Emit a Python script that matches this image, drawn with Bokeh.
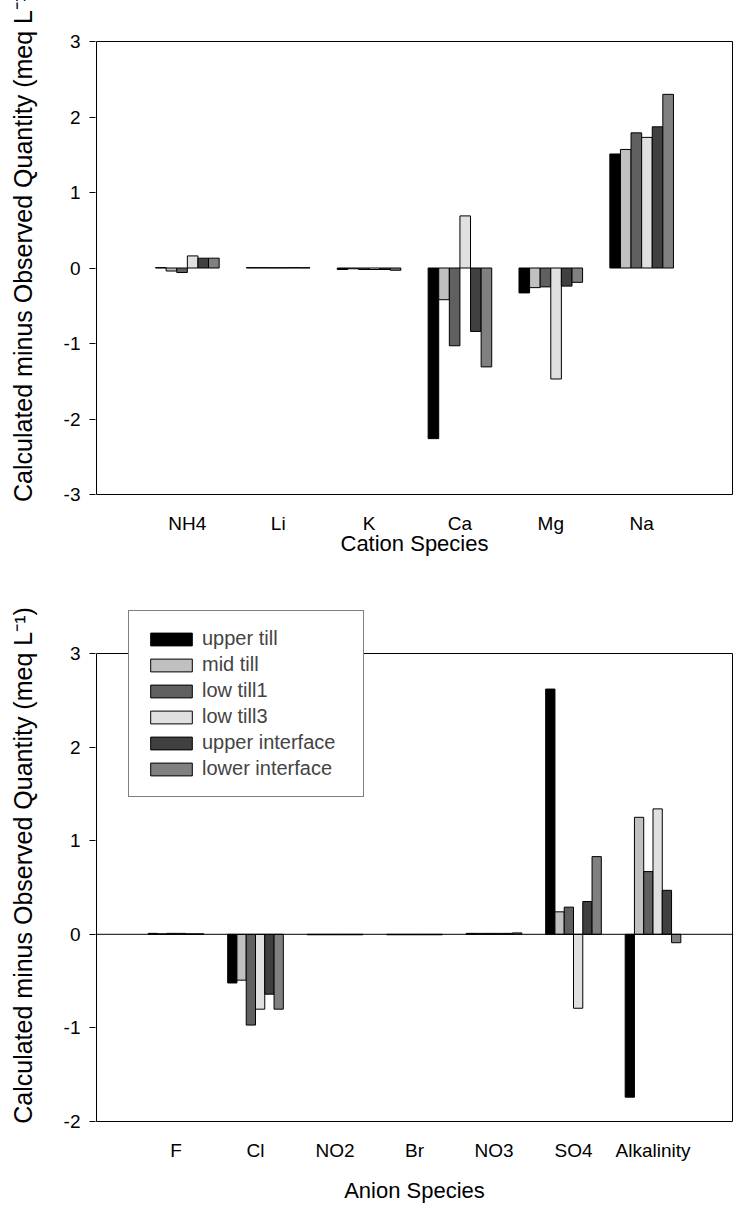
from bokeh.plotting import figure
from bokeh.models import Range1d, FixedTicker, Span, Legend, LegendItem, BoxAnnotation
from bokeh.layouts import column
from bokeh.embed import file_html
from bokeh.resources import INLINE

FONT = "Liberation Sans"

series = ["upper till", "mid till", "low till1", "low till3", "upper interface", "lower interface"]
colors = ["#000000", "#c0c0c0", "#606060", "#e0e0e0", "#404040", "#808080"]

cations = ["NH4", "Li", "K", "Ca", "Mg", "Na"]
cation_upper_till = [0.005, 0.005, -0.02, -2.26, -0.33, 1.51]
cation_mid_till = [-0.04, 0.005, -0.01, -0.42, -0.26, 1.57]
cation_low_till1 = [-0.06, 0.004, -0.02, -1.03, -0.25, 1.79]
cation_low_till3 = [0.16, 0.004, -0.02, 0.69, -1.47, 1.73]
cation_upper_interface = [0.13, 0.005, -0.02, -0.84, -0.24, 1.87]
cation_lower_interface = [0.13, 0.004, -0.03, -1.31, -0.19, 2.30]

anions = ["F", "Cl", "NO2", "Br", "NO3", "SO4", "Alkalinity"]
anion_upper_till = [0.01, -0.52, -0.005, -0.005, 0.01, 2.62, -1.74]
anion_mid_till = [0.005, -0.49, -0.005, -0.005, 0.01, 0.24, 1.25]
anion_low_till1 = [0.01, -0.97, -0.005, -0.005, 0.01, 0.29, 0.67]
anion_low_till3 = [0.01, -0.80, -0.005, -0.005, 0.01, -0.79, 1.34]
anion_upper_interface = [0.005, -0.64, -0.005, -0.005, 0.01, 0.35, 0.47]
anion_lower_interface = [0.005, -0.80, -0.005, -0.005, 0.015, 0.83, -0.09]

cation_ticks = [-3, -2, -1, 0, 1, 2, 3]
anion_ticks = [-2, -1, 0, 1, 2, 3]

cation_data = [cation_upper_till, cation_mid_till, cation_low_till1,
               cation_low_till3, cation_upper_interface, cation_lower_interface]
anion_data = [anion_upper_till, anion_mid_till, anion_low_till1,
              anion_low_till3, anion_upper_interface, anion_lower_interface]

YTITLE = "Calculated minus Observed Quantity (meq L\u207b\u00b9)"
GROUP = 0.7
BOX_W = 636  # px width of the drawn plot box


def style_axes(p, cats, yticks, xtitle, ytitle, title_standoff, ylabel_standoff):
    n = len(cats)
    xa = p.xaxis[0]
    xa.ticker = FixedTicker(ticks=list(range(1, n + 1)))
    xa.major_label_overrides = {i + 1: c for i, c in enumerate(cats)}
    xa.major_tick_line_color = None
    xa.minor_tick_line_color = None
    xa.axis_line_color = None
    xa.major_label_text_font = FONT
    xa.major_label_text_font_size = "19px"
    xa.major_label_text_color = "black"
    xa.major_label_standoff = 11
    xa.axis_label = xtitle
    xa.axis_label_text_font = FONT
    xa.axis_label_text_font_size = "22px"
    xa.axis_label_text_font_style = "normal"
    xa.axis_label_text_color = "black"
    xa.axis_label_standoff = title_standoff

    ya = p.yaxis[0]
    ya.ticker = FixedTicker(ticks=yticks)
    ya.major_label_overrides = {t: str(t) for t in yticks}
    ya.minor_tick_line_color = None
    ya.major_tick_in = 0
    ya.major_tick_out = 6
    ya.major_tick_line_color = "black"
    ya.axis_line_color = None
    ya.major_label_text_font = FONT
    ya.major_label_text_font_size = "19px"
    ya.major_label_text_color = "black"
    ya.major_label_standoff = 9
    ya.axis_label = ytitle
    ya.axis_label_text_font = FONT
    ya.axis_label_text_font_size = "25px"
    ya.axis_label_text_font_style = "normal"
    ya.axis_label_text_color = "black"
    ya.axis_label_standoff = ylabel_standoff


def add_bars(p, data):
    n = len(data[0])
    w = GROUP / len(series)
    rs = []
    for j, (vals, col) in enumerate(zip(data, colors)):
        xs = [i + 1 + (j - (len(series) - 1) / 2) * w for i in range(n)]
        rs.append(p.vbar(x=xs, top=vals, bottom=0, width=w, fill_color=col,
                         line_color="black", line_width=1))
    return rs


def base_fig(height, xr, yr, left, right, top, bottom):
    p = figure(width=736, height=height, output_backend="svg", toolbar_location=None,
               x_range=xr, y_range=yr,
               min_border_left=left, min_border_right=right,
               min_border_top=top, min_border_bottom=bottom)
    p.xgrid.visible = False
    p.ygrid.visible = False
    p.background_fill_color = "white"
    p.border_fill_color = "white"
    p.outline_line_color = None
    return p


def framed(p, n, lo, hi):
    p.add_layout(BoxAnnotation(left=0, right=n + 1, bottom=lo, top=hi,
                               fill_alpha=0, line_color="black", line_alpha=1.0,
                               line_width=1))


# ---- top panel: plot box 41..494 px ----
n1 = len(cations)
lo1, hi1 = cation_ticks[0], cation_ticks[-1]
BOX_H1 = 453
ux1 = (n1 + 1) / BOX_W
uy1 = (hi1 - lo1) / BOX_H1
p1 = base_fig(580, Range1d(-ux1, n1 + 1 + ux1), Range1d(lo1 - uy1, hi1 + uy1),
              95, 3, 40, 85)
framed(p1, n1, lo1, hi1)
add_bars(p1, cation_data)
style_axes(p1, cations, cation_ticks, "Cation Species", "\u00a0" * 7 + YTITLE,
           title_standoff=-6, ylabel_standoff=24)

# ---- bottom panel: plot box 653..1121 px, drawing area extends above it for the legend ----
n2 = len(anions)
lo2, hi2 = anion_ticks[0], anion_ticks[-1]
BOX_H2 = 468
EXTRA = 45
ux2 = (n2 + 1) / BOX_W
uy2 = (hi2 - lo2) / BOX_H2
p2 = base_fig(629, Range1d(-ux2, n2 + 1 + ux2), Range1d(lo2 - uy2, hi2 + EXTRA * uy2),
              95, 3, 73 - EXTRA, 87)
framed(p2, n2, lo2, hi2)
p2.add_layout(Span(location=0, dimension="width", line_color="black", line_width=1))
rs = add_bars(p2, anion_data)
style_axes(p2, anions, anion_ticks, "Anion Species", YTITLE,
           title_standoff=14, ylabel_standoff=24)

PAD, LH, SP = 16, 23, 3
leg_h = 2 * PAD + len(series) * LH + (len(series) - 1) * SP
legend = Legend(items=[LegendItem(label=s, renderers=[r]) for s, r in zip(series, rs)],
                location=(33, BOX_H2 + 1 + EXTRA - 4 - leg_h),
                padding=PAD, margin=0, spacing=SP,
                glyph_width=52, glyph_height=16, label_height=LH, label_width=145,
                label_standoff=5,
                label_text_font=FONT, label_text_font_size="20px",
                border_line_color="black", border_line_width=1,
                background_fill_color="white", background_fill_alpha=1.0)
p2.add_layout(legend, "center")

layout = column(p1, p2, spacing=0)
open("out.html", "w").write(file_html(layout, INLINE))
